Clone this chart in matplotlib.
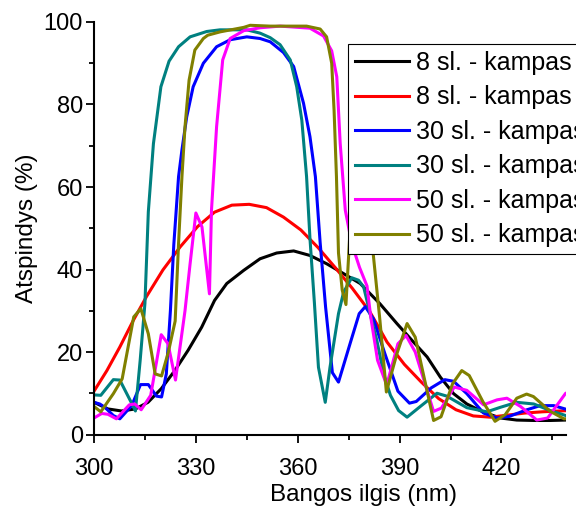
import matplotlib.pyplot as plt
from matplotlib.ticker import MultipleLocator

plt.rcParams['font.family'] = ['Liberation Sans', 'DejaVu Sans']

# 8 sl. (pirmas kampas)
x_8a = [300, 304.1, 308.1, 312.2, 315.9, 319.8, 323.8, 327.7, 331.7, 335.5, 339.1,
        344.1, 348.9, 353.8, 358.8, 363.6, 368.5, 373.5, 378.4, 384.2, 389.2, 394.1,
        398.1, 402, 405.9, 409.8, 414.7, 419.7, 424.5, 429.5, 434.4, 438.9, 443.1]
y_8a = [7.8, 6.2, 5.7, 6.2, 7.8, 11.1, 15.5, 20.4, 26, 32.5, 36.6,
        39.8, 42.6, 44, 44.5, 43.4, 41.4, 39, 36.6, 31.7, 26.9, 22.4,
        18.8, 13.9, 9.9, 7.4, 5.4, 4, 3.5, 3.4, 3.4, 3.5, 3.6]

# 8 sl. (antras kampas)
x_8b = [300, 303.8, 307.6, 311.6, 315.5, 320.3, 325.4, 330.5, 335.5, 340.6, 345.7,
        350.8, 355.8, 360.9, 366, 371.1, 376.1, 381.2, 386.3, 391.4, 396.4, 401.5,
        406.6, 411.7, 416.7, 421.8, 426.9, 432, 437, 443.1]
y_8b = [10.5, 15.5, 21.2, 27.7, 33.5, 39.9, 45.5, 50.4, 53.9, 55.6, 55.8,
        55, 52.7, 49.6, 45.3, 40.4, 35.4, 29.8, 22.4, 17, 12.7, 8.7,
        6, 4.5, 4.2, 4.7, 5.2, 5.5, 5.7, 5.9]

# 30 sl. (pirmas kampas)
x_30a = [300, 301.7, 303.2, 305.7, 307.6, 311.1, 313.7, 316, 318.4, 319.9, 321.3,
         322.5, 323.5, 324.9, 325.9, 327.3, 329.2, 332.2, 336.1, 340.1, 345, 348.9,
         351.9, 355.8, 358.8, 361.7, 363.6, 365.2, 366.6, 368.2, 370.2, 372, 375.4,
         378.1, 379.9, 382.3, 385.7, 389.5, 392.9, 394.9, 399.3, 403.3, 405.9, 409.8,
         414.7, 418.7, 422.3, 427.5, 431.4, 435.4, 439.1, 443.1]
y_30a = [7.8, 7.4, 6.6, 4.6, 3.8, 7, 12.1, 12.1, 9.3, 9.1, 14.7,
         30, 46, 62.5, 69, 77, 84.3, 90, 94, 95.7, 96.4, 96,
         95.2, 92.6, 89.2, 80.3, 72.2, 62.5, 46.5, 30.9, 15, 12.7, 22,
         29.3, 31, 28, 19.5, 10.5, 7.6, 8, 11.3, 13.3, 12.9, 9.9,
         5.2, 4, 4.4, 6, 7, 7, 6.1, 5.5]

# 30 sl. (antras kampas)
x_30b = [300, 302, 305.7, 307.6, 311.2, 312.2, 313.6, 315, 316, 317.5, 319.7,
         322.1, 324.9, 328.3, 333.2, 337.1, 345, 348.9, 351.9, 354.8, 357.8, 359.7,
         361.2, 362.6, 363.6, 364.9, 366.1, 368.1, 369.5, 372, 373.5, 375.9, 377.9,
         379.4, 381.3, 383.3, 385.3, 387.3, 389.7, 392.2, 396.1, 401, 403.9, 409.8,
         415.7, 419.7, 424.5, 429.5, 434.4, 438.9, 443.1]
y_30b = [9.6, 9.5, 13.3, 13.2, 7.4, 5.7, 18, 31.8, 54, 70.5, 84.3,
         90.5, 94, 96.4, 97.7, 98.1, 98.1, 97.3, 96.2, 94.5, 90.8, 84.3,
         76.2, 62.5, 47.5, 32, 16.3, 7.8, 16.3, 29.3, 34.5, 38, 37.4,
         35.8, 29.3, 22.8, 14.7, 9.5, 5.8, 4.2, 6.8, 10, 9.3, 6.5,
         5.5, 6.6, 7.8, 7.4, 5.8, 4.6, 4.0]

# 50 sl. (pirmas kampas)
x_50a = [300, 302.3, 304.1, 306.6, 310.4, 312, 313.9, 316.7, 319.8, 321.8, 324,
         326.8, 328.3, 330, 331.8, 334, 334.6, 336.1, 337.9, 340.1, 344.1, 348.9,
         354.8, 363.6, 367.6, 370, 371.5, 372.5, 374, 375.9, 378.2, 380.4, 381.5,
         383.5, 386.2, 389.5, 391.9, 394.6, 400, 402.3, 406.1, 409.8, 414.7, 418.7,
         421.6, 425.6, 430.4, 433.6, 438.9, 443.1]
y_50a = [4, 5.1, 4.9, 3.8, 7.2, 7.4, 6, 9.5, 24.2, 22, 13.2,
         30, 41.4, 53.7, 50.3, 34.1, 54.4, 74.6, 90.8, 96, 97.9, 98.6,
         99, 98.5, 96.6, 93, 86.7, 70.6, 54.4, 46.3, 40.5, 36, 28.5,
         18, 12, 22, 24, 20, 5.6, 6.4, 11.5, 10.7, 7.2, 8.4,
         8.8, 6.8, 3.5, 4, 10, 11]

# 50 sl. (antras kampas)
x_50b = [300, 302, 305.7, 308.3, 311.7, 313.8, 316, 318, 319.9, 321.9, 323.9,
         324.9, 325.9, 326.8, 328, 329.7, 332.2, 333.5, 337.1, 344.1, 346, 351.9,
         354.8, 362.6, 366.6, 368.5, 370, 370.7, 371.4, 372, 373.1, 374.2, 375.4,
         378.6, 382.2, 384.2, 386.1, 389.2, 392.2, 394.6, 400, 402.2, 405.6, 408.3,
         410.5, 414.5, 418.1, 421.1, 424.5, 427.4, 429.4, 434.4, 438.4, 443.1]
y_50b = [6.8, 5.5, 9.9, 13.5, 28.5, 30.5, 24.4, 14.7, 14.2, 20, 27.5,
         46.3, 62.5, 74.6, 85.9, 93.2, 96, 96.8, 97.6, 98.7, 99.2, 99,
         99, 99, 98.3, 96.4, 90, 78.6, 62.5, 44, 35, 31.5, 49.5,
         65, 44, 27.7, 10.3, 19.6, 26.9, 23.6, 3.4, 4.3, 12.3, 15.5,
         14.3, 8, 3.2, 4.8, 8.8, 9.8, 9.2, 5.6, 3.8, 4]

series = [
    (x_8a, y_8a, 'black', '8 sl. - kampas 0°'),
    (x_8b, y_8b, '#FF0000', '8 sl. - kampas 45°'),
    (x_30a, y_30a, '#0000FF', '30 sl. - kampas 0°'),
    (x_30b, y_30b, '#008080', '30 sl. - kampas 45°'),
    (x_50a, y_50a, '#FF00FF', '50 sl. - kampas 0°'),
    (x_50b, y_50b, '#808000', '50 sl. - kampas 45°'),
]

fig = plt.figure(figsize=(5.76, 5.11), dpi=100)
ax = fig.add_axes([94 / 576, 76.5 / 511, 472 / 576, 412.5 / 511])

for xs, ys, c, lab in series:
    ax.plot(xs, ys, color=c, lw=2.2, label=lab)

ax.set_xlim(300, 439)
ax.set_ylim(0, 100)
ax.xaxis.set_major_locator(MultipleLocator(30))
ax.xaxis.set_minor_locator(MultipleLocator(15))
ax.yaxis.set_major_locator(MultipleLocator(20))
ax.yaxis.set_minor_locator(MultipleLocator(10))

for s in ['top', 'right']:
    ax.spines[s].set_visible(False)
for s in ['left', 'bottom']:
    ax.spines[s].set_linewidth(1.5)

ax.tick_params(which='major', direction='out', length=6, width=1.3, labelsize=17)
ax.tick_params(which='minor', direction='out', length=3.5, width=1.3)
ax.tick_params(axis='x', which='major', pad=11)
ax.tick_params(axis='y', which='major', pad=2)

ax.set_xlabel('Bangos ilgis (nm)', fontsize=17.5)
ax.xaxis.set_label_coords((364 - 94) / 472, -0.121)
ax.set_ylabel('Atspindys (%)', fontsize=17.5, labelpad=4)

leg = ax.legend(loc='upper left', bbox_to_anchor=(0.538, 0.947), borderaxespad=0,
                fontsize=18, frameon=True, fancybox=False, framealpha=1,
                edgecolor='black', handlelength=2.15, handletextpad=0.3,
                labelspacing=0.42, borderpad=0.28)
leg.get_frame().set_linewidth(0.8)

fig.savefig('out.png', dpi=100)
